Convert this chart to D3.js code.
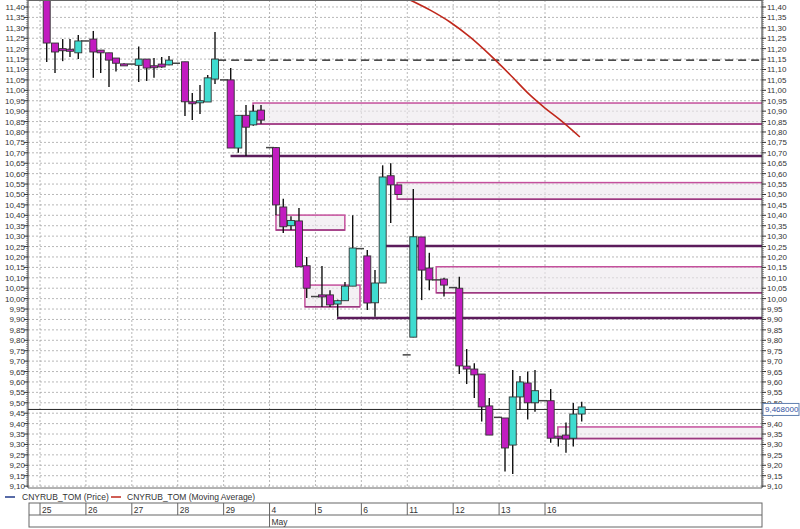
<!DOCTYPE html>
<html><head><meta charset="utf-8">
<script src="https://cdn.jsdelivr.net/npm/d3@7"></script>
<style>body{margin:0;background:#fff}svg{font-family:"Liberation Sans",Arial,sans-serif}</style>
</head><body><svg id="c" width="800" height="529"></svg>
<script>
const dayLabels=["25","26","27","28","29","4","5","6","11","12","13","16"];
const monthLabels=[{day:5,label:"May"}];
const candleT=[0.146,0.327,0.494,0.653,0.834,1.161,1.322,1.503,1.655,1.830,2.150,2.324,2.483,2.651,2.810,3.158,3.317,3.485,3.653,3.812,4.154,4.319,4.487,4.646,4.814,5.140,5.299,5.467,5.641,5.809,6.142,6.317,6.484,6.643,6.811,7.129,7.297,7.464,7.639,7.804,8.131,8.314,8.480,8.800,9.133,9.294,9.460,9.621,9.787,10.129,10.297,10.455,10.623,10.782,11.124,11.290,11.457,11.616,11.799];
const opens=[11.45,11.227,11.20,11.197,11.18,11.246,11.193,11.18,11.155,11.127,11.12,11.15,11.118,11.126,11.122,11.137,10.945,10.94,10.944,11.054,11.05,10.723,10.88,10.834,10.905,10.725,10.44,10.35,10.373,10.158,10.018,10.018,9.974,9.99,10.06,10.205,9.98,10.075,10.59,10.546,9.815,10.296,10.147,10.094,10.05,9.676,9.662,9.638,9.485,9.427,9.297,9.528,9.595,9.50,9.51,9.34,9.345,9.33,9.446];
const highs=[11.46,11.227,11.246,11.246,11.266,11.285,11.193,11.18,11.155,11.13,11.21,11.15,11.155,11.16,11.165,11.137,10.987,11.026,11.073,11.28,11.107,10.88,10.93,10.93,10.93,10.728,10.48,10.395,10.435,10.20,10.157,10.04,9.995,10.08,10.40,10.233,10.137,10.64,10.65,10.546,10.526,10.296,10.22,10.10,10.105,9.758,9.69,9.638,9.523,9.427,9.657,9.628,9.65,9.657,9.566,9.34,9.405,9.499,9.505];
const lows=[11.136,11.083,11.14,11.16,11.15,11.06,11.083,11.016,11.09,11.12,11.04,11.045,11.06,11.108,11.12,10.877,10.857,10.886,10.944,11.03,10.723,10.70,10.685,10.83,10.84,10.40,10.315,10.33,10.153,10.003,9.96,9.96,9.913,9.99,10.06,9.945,9.913,10.075,10.363,10.50,9.815,9.993,10.04,10.01,9.638,9.59,9.523,9.41,9.345,9.17,9.158,9.465,9.42,9.457,9.308,9.29,9.26,9.29,9.41];
const closes=[11.227,11.184,11.19,11.195,11.237,11.184,11.18,11.145,11.13,11.125,11.15,11.107,11.11,11.112,11.145,10.945,10.94,10.95,11.06,11.15,10.723,10.88,10.823,10.90,10.857,10.45,10.345,10.375,10.153,10.05,10.008,9.97,9.99,10.06,10.243,9.979,10.075,10.584,10.546,10.50,10.297,10.137,10.09,10.065,9.677,9.662,9.634,9.48,9.345,9.283,9.528,9.60,9.50,9.558,9.33,9.33,9.326,9.446,9.48];
const flatT=[0.980,1.997,2.962,4.008,5.010,5.990,6.970,7.987,8.626,8.996,9.976,10.956];
const flatV=[11.237,11.126,11.13,11.05,10.725,10.01,10.24,9.73,10.09,10.053,9.43,9.51];
const maT=[8.06,8.5,8.93,9.37,9.80,10.24,10.67,11.0,11.33,11.76];
const maV=[11.434,11.385,11.328,11.255,11.17,11.075,10.978,10.915,10.858,10.776];
const boxStart=[4.64,5.14,7.78,5.77,8.63,11.28];
const boxEnd=[null,6.64,null,6.97,null,null];
const boxTop=[10.939,10.401,10.557,10.065,10.153,9.384];
const boxBottom=[10.838,10.329,10.477,9.961,10.028,9.328];
const lineStart=[4.15,7.51,6.47];
const lineV=[10.685,10.253,9.907];
const dashStart=3.88, dashV=11.145;
const lastPrice=9.468;

const svg=d3.select("#c");
const L=28,R=762,T=0,B=488;
const x=d3.scaleLinear().domain([0,11]).range([40,545]);
const y=d3.scaleLinear().domain([9.0909,11.4336]).range([B,T]);
const fmt=v=>d3.format(".2f")(v).replace(".",",");
const g=svg.append("g");
g.append("defs").append("clipPath").attr("id","pc").append("rect").attr("x",L).attr("y",T).attr("width",R-L).attr("height",B-T);
const p=g.append("g").attr("clip-path","url(#pc)");
const yt=d3.range(9.10,11.4001,0.05);
p.selectAll(".hg").data(yt).enter().append("line").attr("x1",L).attr("x2",R).attr("y1",d=>y(d)).attr("y2",d=>y(d)).attr("stroke","#999").attr("stroke-dasharray","2,2").attr("stroke-width",0.7);
p.selectAll(".vg").data(d3.range(dayLabels.length)).enter().append("line").attr("x1",d=>x(d)).attr("x2",d=>x(d)).attr("y1",T).attr("y2",B).attr("stroke","#999").attr("stroke-dasharray","2,2").attr("stroke-width",0.7);
const rx=R+5;
boxStart.forEach((s,i)=>{
  const x1=x(s),x2=boxEnd[i]==null?rx:x(boxEnd[i]);
  p.append("rect").attr("x",x1).attr("y",y(boxTop[i])).attr("width",x2-x1).attr("height",y(boxBottom[i])-y(boxTop[i])).attr("fill","rgba(236,232,236,0.6)").attr("stroke","#c4509c").attr("stroke-width",1.5);
  p.append("line").attr("x1",x1).attr("x2",x2).attr("y1",y(boxBottom[i])).attr("y2",y(boxBottom[i])).attr("stroke","#9a3a80").attr("stroke-width",1.5);
});
lineStart.forEach((s,i)=>p.append("line").attr("x1",x(s)).attr("x2",rx).attr("y1",y(lineV[i])).attr("y2",y(lineV[i])).attr("stroke","#5c1c5c").attr("stroke-width",2.5));
p.append("line").attr("x1",x(dashStart)).attr("x2",rx).attr("y1",y(dashV)).attr("y2",y(dashV)).attr("stroke","#111").attr("stroke-width",1.3).attr("stroke-dasharray","8,5");
p.append("line").attr("x1",L).attr("x2",R).attr("y1",y(lastPrice)).attr("y2",y(lastPrice)).attr("stroke","#222").attr("stroke-width",1);
p.selectAll(".fl").data(flatT).enter().append("line").attr("x1",d=>x(d)-4).attr("x2",d=>x(d)+4).attr("y1",(d,i)=>y(flatV[i])).attr("y2",(d,i)=>y(flatV[i])).attr("stroke","#444").attr("stroke-width",1.5);
const cd=candleT.map((t,i)=>({t,o:opens[i],h:highs[i],l:lows[i],c:closes[i]}));
p.selectAll(".wk").data(cd).enter().append("line").attr("x1",d=>x(d.t)).attr("x2",d=>x(d.t)).attr("y1",d=>y(d.h)).attr("y2",d=>y(d.l)).attr("stroke","#111").attr("stroke-width",1.4);
p.selectAll(".bd").data(cd).enter().append("rect").attr("x",d=>x(d.t)-3.5).attr("width",7)
 .attr("y",d=>y(Math.max(d.o,d.c))).attr("height",d=>Math.max(2,Math.abs(y(d.o)-y(d.c))))
 .attr("fill",d=>d.c>=d.o?"#3fdcd0":"#c21cc0").attr("stroke","#333").attr("stroke-width",0.9);
p.append("path").datum(maT.map((t,i)=>[t,maV[i]])).attr("d",d3.line().x(d=>x(d[0])).y(d=>y(d[1])).curve(d3.curveMonotoneX)).attr("fill","none").attr("stroke","#c0281c").attr("stroke-width",1.6);
const minor=d3.range(9.10,11.431,0.01);
[[L,-1],[R,1]].forEach(([ax,dir])=>{
  g.append("line").attr("x1",ax).attr("x2",ax).attr("y1",T).attr("y2",B).attr("stroke","#333");
  g.selectAll(null).data(minor).enter().append("line").attr("x1",ax).attr("x2",ax+dir*2).attr("y1",d=>y(d)).attr("y2",d=>y(d)).attr("stroke","#555").attr("stroke-width",0.6);
  g.selectAll(null).data(yt).enter().append("line").attr("x1",ax).attr("x2",ax+dir*4).attr("y1",d=>y(d)).attr("y2",d=>y(d)).attr("stroke","#333");
  g.selectAll(null).data(yt).enter().append("text").attr("x",dir<0?ax-3:ax+5).attr("y",d=>y(d)+3).attr("text-anchor",dir<0?"end":"start").attr("font-size",8).attr("fill","#333").text(fmt);
});
g.append("line").attr("x1",L).attr("x2",R).attr("y1",0.5).attr("y2",0.5).attr("stroke","#666");
g.append("line").attr("x1",L).attr("x2",R).attr("y1",B).attr("y2",B).attr("stroke","#666");
g.append("rect").attr("x",R+1).attr("y",y(lastPrice)-6).attr("width",36).attr("height",12).attr("fill","#fff").attr("stroke","#6080b0");
g.append("text").attr("x",R+3).attr("y",y(lastPrice)+3).attr("font-size",8).attr("fill","#3050a0").text(lastPrice.toFixed(6).replace(".",","));
g.append("line").attr("x1",5).attr("x2",15).attr("y1",497).attr("y2",497).attr("stroke","#203a8a").attr("stroke-width",1.5);
g.append("text").attr("x",22).attr("y",500).attr("font-size",8.5).attr("fill","#333").text("CNYRUB_TOM (Price)");
g.append("line").attr("x1",111).attr("x2",121).attr("y1",497).attr("y2",497).attr("stroke","#c0281c").attr("stroke-width",1.5);
g.append("text").attr("x",127).attr("y",500).attr("font-size",8.5).attr("fill","#333").text("CNYRUB_TOM (Moving Average)");
const dx0=29;
g.append("rect").attr("x",dx0).attr("y",503).attr("width",R-dx0).attr("height",24).attr("fill","none").attr("stroke","#666");
g.append("line").attr("x1",dx0).attr("x2",R).attr("y1",515).attr("y2",515).attr("stroke","#666");
g.selectAll(null).data(dayLabels).enter().append("line").attr("x1",(d,i)=>x(i)).attr("x2",(d,i)=>x(i)).attr("y1",503).attr("y2",515).attr("stroke","#666");
g.selectAll(null).data(dayLabels).enter().append("text").attr("x",(d,i)=>x(i)+2).attr("y",513).attr("font-size",8.5).attr("fill","#333").text(d=>d);
monthLabels.forEach(m=>{
  g.append("line").attr("x1",x(m.day)).attr("x2",x(m.day)).attr("y1",515).attr("y2",527).attr("stroke","#666");
  g.append("text").attr("x",x(m.day)+2).attr("y",525).attr("font-size",8.5).attr("fill","#333").text(m.label);
});
</script></body></html>
